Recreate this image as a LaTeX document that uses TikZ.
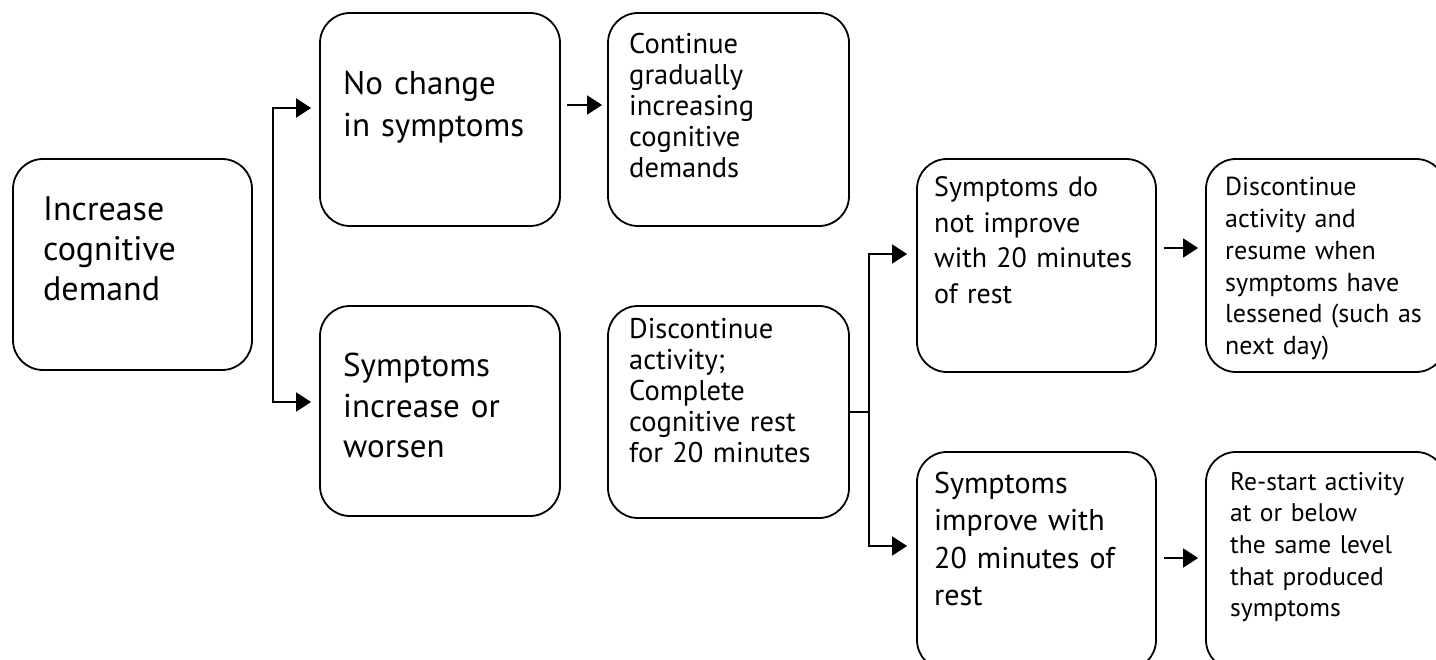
\documentclass[tikz,border=0pt]{standalone}
\usepackage{fontspec}
\setmainfont{PT Sans}
\usetikzlibrary{arrows.meta, calc}
\newcommand{\fsz}[2]{\fontsize{#1}{#2}\selectfont}
\tikzset{
  box/.style={draw, line width=1.8pt, rounded corners=30pt, minimum width=240pt, minimum height=212pt, inner sep=0pt},
  txt/.style={anchor=base west, align=left, inner sep=0pt, text width=235pt},
  arr/.style={line width=1.8pt, -{Triangle[length=15pt,width=19pt]}},
  wire/.style={line width=1.8pt},
}

\begin{document}
\begin{tikzpicture}[x=1pt, y=-1pt]
    \useasboundingbox (0,0) rectangle (1436,660);
    \node[box, minimum width=239pt, minimum height=211pt] (demand) at (132.5,264.5) {};
    \node[box, minimum height=213pt] (nochange) at (440,119.5) {};
    \node[box, minimum width=241pt, minimum height=213pt] (cont) at (728.5,119.5) {};
    \node[box, minimum height=210pt] (worse) at (440,411) {};
    \node[box, minimum width=241pt] (rest) at (728.5,412) {};
    \node[box, minimum width=239pt, minimum height=213pt] (noimp) at (1036.5,265.5) {};
    \node[box, minimum height=213pt] (resume) at (1326,265.5) {};
    \node[box, minimum width=239pt, minimum height=218pt] (imp) at (1036.5,561) {};
    \node[box, minimum height=218pt] (restart) at (1326,561) {};

    \node[txt, font=\fsz{34}{40}] (tdemand) at (43,221) {Increase\\cognitive\\demand};
    \node[txt, font=\fsz{33}{42}] (tnochange) at (343,95) {No change\\in symptoms};
    \node[txt, font=\fsz{28.5}{31}] (tcont) at (629,54) {Continue\\gradually\\increasing\\cognitive\\demands};
    \node[txt, font=\fsz{33}{40.5}] (tworse) at (343,377) {Symptoms\\increase or\\worsen};
    \node[txt, font=\fsz{28.5}{31}] (trest) at (629,339) {Discontinue\\activity;\\Complete\\cognitive rest\\for 20 minutes};
    \node[txt, font=\fsz{28}{35.5}] (tnoimp) at (934,197) {Symptoms do\\not improve\\with 20 minutes\\of rest};
    \node[txt, font=\fsz{26}{31.7}] (tresume) at (1225,196) {Discontinue\\activity and\\resume when\\symptoms have\\lessened (such as\\next day)};
    \node[txt, font=\fsz{30}{37.5}] (timp) at (934,493) {Symptoms\\improve with\\20 minutes of\\rest};
    \node[txt, font=\fsz{25.5}{31.7}] (trestart) at (1230,490) {Re-start activity\\at or below\\the same level\\that produced\\symptoms};

    \coordinate (split) at (273,255);
    \coordinate (fork) at (869,412);
    \draw[arr] (split) |- ($(nochange.west)+(-8,-11.5)$);
    \draw[arr] (split) |- ($(worse.west)+(-8,-9)$);
    \draw[arr] ($(nochange.east)+(6,-14.5)$) -- ($(cont.west)+(-5,-14.5)$);
    \draw[wire] (rest.east) -- (fork);
    \draw[arr] (fork) |- ($(noimp.west)+(-9,-11.5)$);
    \draw[arr] (fork) |- ($(imp.west)+(-9,-15)$);
    \draw[arr] ($(noimp.east)+(7,-17.5)$) -- ($(resume.west)+(-7,-17.5)$);
    \draw[arr] ($(imp.east)+(7,-3)$) -- ($(restart.west)+(-7,-3)$);
\end{tikzpicture}
\end{document}
